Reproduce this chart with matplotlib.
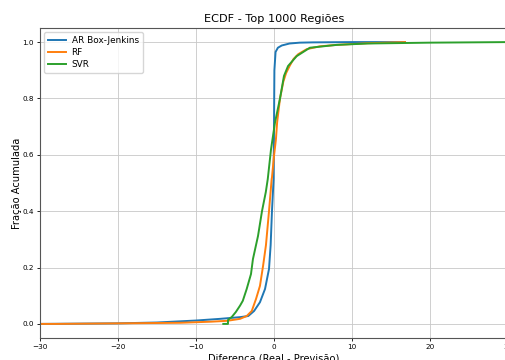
import matplotlib
matplotlib.use("Agg")
import matplotlib.pyplot as plt

# ECDF points (diferença, fração acumulada)
ar_x = [-35, -30, -20, -15, -10, -6.9, -4.35, -3.3, -2.55, -1.8, -1.15, -0.64, -0.43, -0.26,
        -0.05, 0.0, 0.05, 0.2, 0.5, 1.0, 2.0, 3.3, 5.0, 10.0, 16.8]
ar_y = [0.0, 0.0, 0.002, 0.005, 0.012, 0.018, 0.024, 0.028, 0.046, 0.077, 0.124, 0.195, 0.28, 0.40,
        0.514, 0.7, 0.9, 0.965, 0.98, 0.988, 0.995, 0.998, 0.999, 1.0, 1.0]

rf_x = [-35, -28, -20, -12, -8, -6, -4.35, -3.5, -2.85, -2.3, -1.8, -1.4, -1.03, -0.64, -0.3,
        -0.26, 0.0, 0.25, 0.4, 0.77, 1.2, 1.55, 2.0, 2.5, 3.1, 4.2, 5.9, 8.0, 12.0, 16.8]
rf_y = [0.0, 0.0, 0.002, 0.004, 0.008, 0.011, 0.018, 0.028, 0.046, 0.089, 0.135, 0.206, 0.28, 0.40, 0.514,
        0.52, 0.596, 0.656, 0.715, 0.80, 0.86, 0.89, 0.915, 0.94, 0.957, 0.975, 0.985, 0.99, 0.996, 1.0]

svr_x = [-6.5, -5.9, -5.9, -5.4, -4.9, -4.35, -4.0, -3.5, -2.95, -2.7, -2.05, -1.54, -1.05,
         -0.8, -0.38, 0.13, 0.77, 1.28, 1.8, 2.9, 4.6, 8.0, 12.0, 20.0, 30.0, 35.0]
svr_y = [0.0, 0.0, 0.014, 0.025, 0.042, 0.065, 0.082, 0.124, 0.177, 0.23, 0.312, 0.40, 0.468,
         0.514, 0.62, 0.715, 0.80, 0.88, 0.915, 0.95, 0.98, 0.99, 0.995, 0.998, 1.0, 1.0]

series = [("AR Box-Jenkins", ar_x, ar_y, "#1f77b4"),
          ("RF", rf_x, rf_y, "#ff7f0e"),
          ("SVR", svr_x, svr_y, "#2ca02c")]

fig = plt.figure(figsize=(5.05, 3.6), dpi=100)
# the reference is a crop: right spine and x label fall outside the image
ax = fig.add_axes([40 / 505, 22 / 360, 468 / 505, 310 / 360])

for label, xs, ys, color in series:
    ax.plot(xs, ys, label=label, color=color, linewidth=1.4)

ax.set_xlim(-30, 30)
ax.set_ylim(-0.05, 1.05)
ax.set_xticks([-30, -20, -10, 0, 10, 20, 30])
ax.set_yticks([0.0, 0.2, 0.4, 0.6, 0.8, 1.0])
ax.tick_params(labelsize=5.2, length=2.5, width=0.6, pad=2)
ax.grid(True, color="#c8c8c8", linewidth=0.6)
for sp in ax.spines.values():
    sp.set_linewidth(0.8)
    sp.set_color("#555555")

ax.set_title("ECDF - Top 1000 Regiões", fontsize=8.1, pad=4)
ax.set_xlabel("Diferença (Real - Previsão)", fontsize=7.1, labelpad=3)
ax.set_ylabel("Fração Acumulada", fontsize=7.1, labelpad=0)
ax.legend(loc="upper left", fontsize=6.4, handlelength=2.0, borderpad=0.45,
          labelspacing=0.3, handletextpad=0.6)

fig.savefig("out.png", dpi=100)
